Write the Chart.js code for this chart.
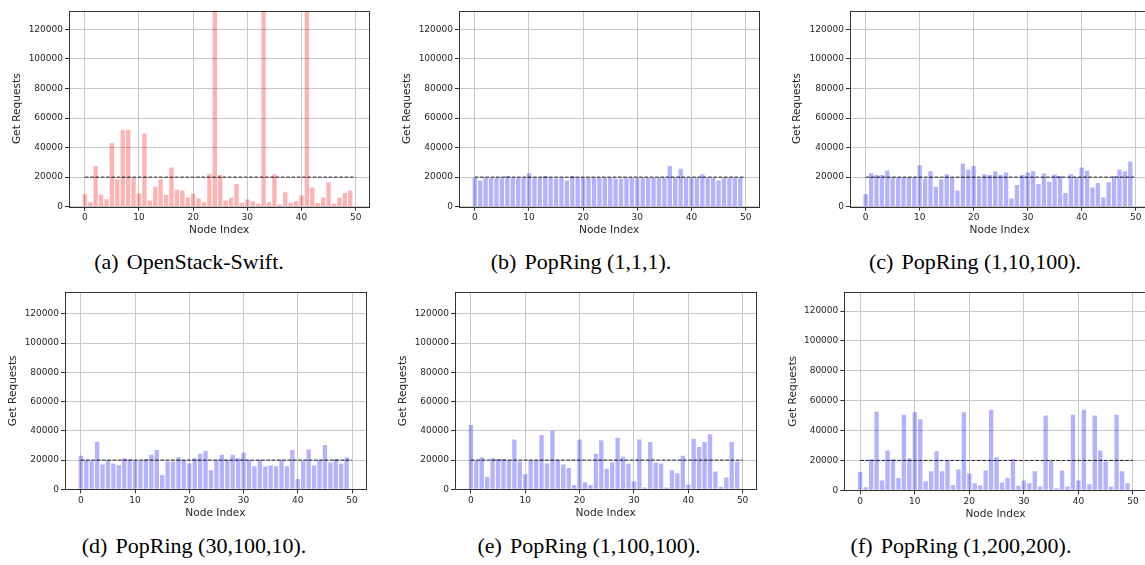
<!DOCTYPE html>
<html>
<head>
<meta charset="utf-8">
<script src="https://cdn.jsdelivr.net/npm/chart.js@4.4.1/dist/chart.umd.min.js"></script>
<style>
  body { margin: 0; width: 1145px; height: 565px; overflow: hidden; background: #fff; position: relative; }
  canvas { position: absolute; }
  .cap { position: absolute; font-family: "Liberation Serif", serif; font-size: 22px; line-height: 26px;
         transform: translateX(-50%); white-space: nowrap; color: #000; }
  .cap span { margin-right: 0.12em; }
</style>
</head>
<body>
<canvas id="ca" width="380" height="240" style="left:0;top:0"></canvas>
<canvas id="cb" width="380" height="240" style="left:390px;top:0"></canvas>
<canvas id="cc" width="380" height="240" style="left:780px;top:0"></canvas>
<canvas id="cd" width="380" height="240" style="left:0;top:285px"></canvas>
<canvas id="ce" width="380" height="240" style="left:390px;top:285px"></canvas>
<canvas id="cf" width="380" height="240" style="left:780px;top:285px"></canvas>

<div class="cap" style="left:189px;top:249px"><span>(a)</span> OpenStack-Swift.</div>
<div class="cap" style="left:581px;top:249px"><span>(b)</span> PopRing (1,1,1).</div>
<div class="cap" style="left:975px;top:249px"><span>(c)</span> PopRing (1,10,100).</div>
<div class="cap" style="left:194px;top:533px"><span>(d)</span> PopRing (30,100,10).</div>
<div class="cap" style="left:589px;top:533px"><span>(e)</span> PopRing (1,100,100).</div>
<div class="cap" style="left:961px;top:533px"><span>(f)</span> PopRing (1,200,200).</div>

<script>
/* ===== DATA ===== */
const nodes = [0,1,2,3,4,5,6,7,8,9,10,11,12,13,14,15,16,17,18,19,20,21,22,23,24,
               25,26,27,28,29,30,31,32,33,34,35,36,37,38,39,40,41,42,43,44,45,46,47,48,49];

const swift = [8500,3000,27500,8000,5000,43000,18500,52000,52000,19500,
               9000,49500,4200,13500,18500,8000,26500,11500,11000,6200,
               8700,5500,3000,22000,150000,21500,4200,6000,15300,2500,
               4800,3700,2000,150000,3200,22000,1300,9800,2700,3700,
               7500,150000,13000,2500,6200,16500,2000,6000,9200,11000];

const pop_1_1_1 = [19600,17800,19500,19500,19500,19500,20800,19500,19500,19500,
                   22600,19500,19500,20800,19500,19000,19500,17800,20800,19500,
                   19500,19500,19500,19500,19500,19500,19000,19000,19500,19500,
                   19500,19500,19500,19500,19500,19500,27500,19500,25700,19500,
                   19500,19500,22000,19500,19500,17800,19500,19500,19500,19500];

const pop_1_10_100 = [8500,22500,21500,21500,24500,19700,19700,19700,19700,19700,
                      28000,19000,24000,13500,18500,22000,19800,11000,29300,25200,
                      27500,19000,22000,21500,24000,21500,23200,5500,14700,21500,
                      23200,24000,15300,22500,16800,21800,20800,9200,22000,20000,
                      26500,24500,13000,16000,6200,16500,20700,25200,24000,30500];

const pop_30_100_10 = [23000,19800,19300,32500,17000,19800,17700,16500,21300,20500,
                       19900,19300,20700,23700,26800,9800,19000,19000,22000,20000,
                       17700,21300,24300,26200,13000,20000,23600,20000,23600,21300,
                       25000,20000,15800,20000,15800,16300,15800,20000,15800,26800,
                       7000,19300,27300,16200,20000,30300,18400,20700,17700,22000];

const pop_1_100_100 = [44000,19500,22000,8500,21300,20700,20700,19800,34000,19100,
                       10300,19800,19800,37200,17700,40000,20000,17000,14500,3000,
                       34000,4800,3000,24300,33500,14000,18300,35200,22300,17700,
                       5500,34000,1300,32300,18400,17700,1300,13000,11000,23000,
                       3100,34600,29000,32300,37700,12200,1800,8000,32300,19000];

const pop_1_200_200 = [12300,2000,20800,52700,6600,26700,21000,8300,50500,21500,
                       52300,47500,6000,12800,26200,12800,20000,3500,14000,52300,
                       11200,4800,3200,13300,54000,22200,5300,8200,21000,3000,
                       6600,4700,12700,2500,50000,20000,1300,13300,2600,50500,
                       6600,54000,4000,50000,26600,19200,2600,50500,12800,4800];

// dashed reference line (average load)
const avgX = [0, 50];
const avgY = [20000, 20000];

const xTicks = [0, 10, 20, 30, 40, 50];
const yTicks = [0, 20000, 40000, 60000, 80000, 100000, 120000];

/* ===== PANELS ===== */
const RED = "rgba(255,0,0,0.3)";
const BLUE = "rgba(0,0,255,0.3)";

const panels = [
  { id: "ca", values: swift,         color: RED,  l: 69,   r: 369.3, t: 10.7, b: 206.7, yMax: 132600, yt: 17,   xt: 230 },
  { id: "cb", values: pop_1_1_1,     color: BLUE, l: 69,   r: 369.3, t: 10.7, b: 206.7, yMax: 132600, yt: 17,   xt: 230 },
  { id: "cc", values: pop_1_10_100,  color: BLUE, l: 69.9, r: 369.3, t: 10.7, b: 206.7, yMax: 132600, yt: 17,   xt: 230 },
  { id: "cd", values: pop_30_100_10, color: BLUE, l: 65,   r: 365.7, t: 5.7,  b: 204.3, yMax: 134700, yt: 13,   xt: 228.7 },
  { id: "ce", values: pop_1_100_100, color: BLUE, l: 65,   r: 366.3, t: 5.7,  b: 204.3, yMax: 134700, yt: 13,   xt: 228.7 },
  { id: "cf", values: pop_1_200_200, color: BLUE, l: 64.3, r: 366.7, t: 4.3,  b: 205.3, yMax: 132500, yt: 13.5, xt: 229 }
];

const W = 380, H = 240;
const tickFont = { family: "DejaVu Sans", size: 9 };
const titleFont = { family: "DejaVu Sans", size: 10.6 };
const textColor = "#262626";
const gridColor = "#c8c8c8";
const spine = "#333";

// box round the plot area, like matplotlib spines
const frame = {
  id: "frame",
  afterDraw(chart) {
    const { ctx, chartArea: a } = chart;
    ctx.save();
    ctx.strokeStyle = spine;
    ctx.lineWidth = 1;
    const x0 = Math.round(a.left) + 0.5, y0 = Math.round(a.top) + 0.5;
    const x1 = Math.round(a.right) + 0.5, y1 = Math.round(a.bottom) + 0.5;
    ctx.strokeRect(x0, y0, x1 - x0, y1 - y0);
    ctx.restore();
  }
};

function makeChart(p) {
  const lh = titleFont.size * 1.2;
  return new Chart(document.getElementById(p.id), {
    type: "bar",
    data: {
      datasets: [
        {
          type: "line",
          data: avgX.map((x, i) => ({ x, y: avgY[i] })),
          borderColor: "rgba(0,0,0,0.85)",
          borderWidth: 1,
          borderDash: [3.7, 1.6],
          pointRadius: 0,
          order: 0
        },
        {
          type: "bar",
          data: nodes.map((x, i) => ({ x, y: p.values[i] })),
          backgroundColor: p.color,
          borderWidth: 0,
          categoryPercentage: 1,
          barPercentage: 0.8,
          order: 1
        }
      ]
    },
    options: {
      responsive: false,
      animation: false,
      layout: { padding: { top: p.t, right: W - p.r, left: 0, bottom: 0 } },
      plugins: { legend: { display: false }, tooltip: { enabled: false } },
      scales: {
        x: {
          type: "linear",
          min: -2.92, max: 52.52,
          offset: false,
          afterBuildTicks: s => { s.ticks = xTicks.map(v => ({ value: v })); },
          afterFit: s => { s.height = H - p.b; },
          grid: { color: gridColor, tickColor: spine, tickLength: 4, offset: false },
          border: { display: false },
          ticks: { font: tickFont, color: textColor, padding: 2, maxRotation: 0, autoSkip: false },
          title: { display: true, text: "Node Index", font: titleFont, color: textColor,
                   padding: { top: 0, bottom: (H - p.xt) - lh / 2 } }
        },
        y: {
          min: 0, max: p.yMax,
          afterBuildTicks: s => { s.ticks = yTicks.map(v => ({ value: v })); },
          afterFit: s => { s.width = p.l; },
          grid: { color: gridColor, tickColor: spine, tickLength: 4 },
          border: { display: false },
          ticks: { font: tickFont, color: textColor, padding: 2, autoSkip: false,
                   callback: v => String(v) },
          title: { display: true, text: "Get Requests", font: titleFont, color: textColor,
                   padding: { top: p.yt - lh / 2, bottom: 0 } }
        }
      }
    },
    plugins: [frame]
  });
}

panels.forEach(makeChart);
</script>
</body>
</html>
